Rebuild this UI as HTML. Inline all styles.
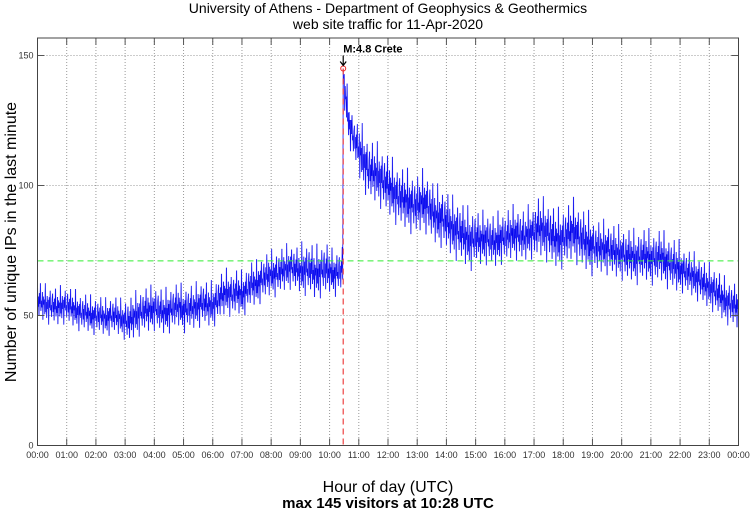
<!DOCTYPE html>
<html><head><meta charset="utf-8"><style>
body{margin:0;background:#fff;}
svg text{font-family:"Liberation Sans",sans-serif;}
</style></head><body>
<svg id="chart" width="750" height="511" viewBox="0 0 750 511" xmlns="http://www.w3.org/2000/svg">
<rect x="0" y="0" width="750" height="511" fill="#fff"/>
<text x="388" y="13" text-anchor="middle" font-size="14">University of Athens - Department of Geophysics &amp; Geothermics</text>
<text x="388" y="29" text-anchor="middle" font-size="14">web site traffic for 11-Apr-2020</text>
<g id="grid"></g>
<g id="series"></g>
<g id="axes"></g>
<text transform="translate(16,242) rotate(-90)" text-anchor="middle" font-size="16">Number of unique IPs in the last minute</text>
<text x="388" y="492" text-anchor="middle" font-size="16">Hour of day (UTC)</text>
<text x="388" y="508" text-anchor="middle" font-size="15" font-weight="bold">max 145 visitors at 10:28 UTC</text>
</svg>
<script>
const hourLabels=["00:00","01:00","02:00","03:00","04:00","05:00","06:00","07:00","08:00","09:00","10:00","11:00","12:00","13:00","14:00","15:00","16:00","17:00","18:00","19:00","20:00","21:00","22:00","23:00","00:00"];
const yTicks=[0,50,100,150];
const meanTimes=[0,10,20,30,40,50,60,70,80,90,100,110,120,130,140,150,160,170,180,190,200,210,220,230,240,250,260,270,280,290,300,310,320,330,340,350,360,370,380,390,400,410,420,430,440,450,460,470,480,490,500,510,520,530,540,550,560,570,580,590,600,610,620,627,628,630,640,650,660,670,680,690,700,710,720,730,740,750,760,770,780,790,800,810,820,830,840,850,860,870,880,890,900,910,920,930,940,950,960,970,980,990,1000,1010,1020,1030,1040,1050,1060,1070,1080,1090,1100,1110,1120,1130,1140,1150,1160,1170,1180,1190,1200,1210,1220,1230,1240,1250,1260,1270,1280,1290,1300,1310,1320,1330,1340,1350,1360,1370,1380,1390,1400,1410,1420,1430,1440];
const meanValues=[56,55,54,54,53,54,54,53,52,51,51,50,50,50,49,50,50,49,48,48,50,51,52,52,53,52,51,52,53,54,52,53,53,54,55,54,54,56,58,59,58,59,58,60,62,62,64,65,66,66,67,68,69,68,67,68,68,66,67,68,67,66,67,68,145,138,124,118,114,110,106,105,104,102,100,98,96,95,94,93,92,94,93,90,88,88,86,84,83,82,80,79,80,79,80,79,78,80,80,81,82,81,80,82,82,84,83,82,80,79,80,81,83,81,79,78,77,76,76,76,75,74,74,73,73,72,73,73,72,72,73,71,70,69,68,67,66,65,64,62,61,60,58,56,55,54,53];
const spreadByHour=[5,5,5,6,6,6,6,6,6,7,6,8,8,8,8,7,7,8,8,7,7,7,6,6];
const eventMinute=628, eventLabel="M:4.8 Crete", eventPeak=145;
const avgValue=71;
const NS="http://www.w3.org/2000/svg";
const X0=37.5,X1=738.5,Y0=445.5,PXU=2.6;
const xs=m=>X0+(X1-X0)*m/1440;
const ys=v=>Y0-v*PXU;
function mk(tag,attrs,parent){const e=document.createElementNS(NS,tag);for(const k in attrs)e.setAttribute(k,attrs[k]);parent.appendChild(e);return e;}
const grid=document.getElementById('grid'),axes=document.getElementById('axes'),series=document.getElementById('series');
hourLabels.forEach((l,i)=>{const x=xs(i*60);
 if(i>0&&i<24){const g=mk('line',{x1:x,x2:x,y1:38,y2:Y0,stroke:'#999','stroke-width':1,'stroke-dasharray':'1,2'},grid);
 
 
 mk('line',{x1:x,x2:x,y1:Y0,y2:Y0-7,stroke:'#555'},axes);mk('line',{x1:x,x2:x,y1:38,y2:45,stroke:'#555'},axes);}
 const t=mk('text',{x:x,y:458,'text-anchor':'middle','font-size':9,fill:'#333'},axes);t.textContent=l;
 
 
});
yTicks.forEach(v=>{const y=ys(v);
 if(v>0){const g=mk('line',{x1:X0,x2:X1,y1:y,y2:y,stroke:'#999','stroke-width':1,'stroke-dasharray':'1,2'},grid);
 
 
 mk('line',{x1:X0,x2:X0+7,y1:y,y2:y,stroke:'#555'},axes);mk('line',{x1:X1,x2:X1-7,y1:y,y2:y,stroke:'#555'},axes);}
 const t=mk('text',{x:X0-4,y:y+3,'text-anchor':'end','font-size':9,fill:'#333'},axes);t.textContent=v;
 
 
});
const frame=mk('rect',{x:X0,y:38,width:X1-X0,height:Y0-38,fill:'none',stroke:'#444','stroke-width':1},axes);


function meanAt(m){for(let i=1;i<meanTimes.length;i++){if(m<=meanTimes[i]){const t0=meanTimes[i-1],t1=meanTimes[i];return meanValues[i-1]+(meanValues[i]-meanValues[i-1])*(m-t0)/(t1-t0);}}return meanValues[meanValues.length-1];}
const texture=[0.9,-0.5,0.3,-1.1,0.6,-0.2,1.4,-0.7,0.1,-0.4,0.8,-1.3,0.5,-0.1,0.3,-0.8,1.6,-0.6,0.2,-1.0,0.7,-0.3,0.4,-1.5,0.6,-0.2,1.1,-0.4,0.0,-0.9,0.5];
let pts=[];
for(let m=0;m<=1440;m++){let v=meanAt(m);
 if(m!==eventMinute){const s=spreadByHour[Math.min(23,Math.floor(m/60))];v+=s*texture[m%texture.length];}
 pts.push(xs(m).toFixed(1)+','+ys(v).toFixed(1));}
const band=mk('polyline',{points:pts.join(' '),fill:'none',stroke:'#9090ff','stroke-width':1.1},series);


const line=mk('polyline',{points:pts.join(' '),fill:'none',stroke:'#0000ee','stroke-width':0.5},series);


const avg=mk('line',{x1:X0,x2:X1,y1:ys(avgValue),y2:ys(avgValue),stroke:'#33ee33','stroke-width':1,'stroke-dasharray':'6,4'},series);


const ex=xs(eventMinute);
const ev=mk('line',{x1:ex,x2:ex,y1:ys(eventPeak),y2:Y0,stroke:'#ee4444','stroke-width':1.2,'stroke-dasharray':'6,4'},series);


const pk=mk('circle',{cx:ex,cy:ys(eventPeak),r:2.5,fill:'none',stroke:'#ee2222','stroke-width':1},series);


const ar=mk('path',{d:`M${ex},${ys(eventPeak)-13}V${ys(eventPeak)-3}M${ex-3},${ys(eventPeak)-7}L${ex},${ys(eventPeak)-3}L${ex+3},${ys(eventPeak)-7}`,fill:'none',stroke:'#000','stroke-width':1.2},series);


const el=mk('text',{x:ex,y:ys(eventPeak)-16,'font-size':11,'font-weight':'bold'},series);el.textContent=eventLabel;


</script>
</body></html>
